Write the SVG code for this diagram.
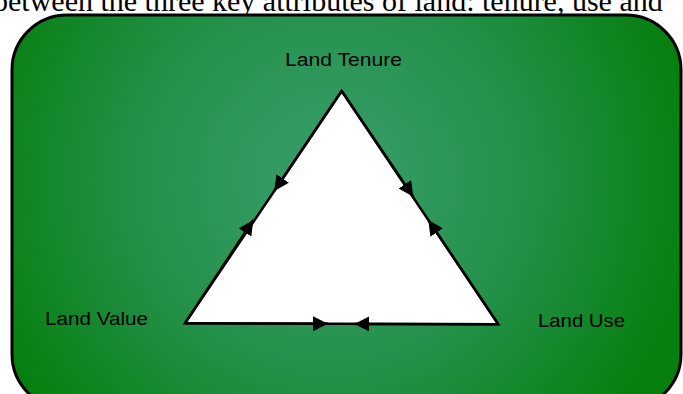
<svg xmlns="http://www.w3.org/2000/svg" width="683" height="394" viewBox="0 0 683 394">
<style>
.lbl{font-family:"Liberation Sans",Arial,sans-serif;font-size:18px;fill:#000}
.title{font-family:"Liberation Serif","Times New Roman",serif;font-size:30px;fill:#000}
.edge{fill:none;stroke:#000;stroke-width:2.5;marker-end:url(#ah)}
</style>
<defs>
<radialGradient id="bg" cx="330" cy="180" r="370" gradientUnits="userSpaceOnUse">
<stop offset="0" stop-color="#3a9e6e"/>
<stop offset="0.5" stop-color="#25914c"/>
<stop offset="1" stop-color="#067f0e"/>
</radialGradient>
<marker id="ah" viewBox="0 0 15 15" refX="15" refY="7.5" markerWidth="15" markerHeight="15" markerUnits="userSpaceOnUse" orient="auto">
<path d="M0,0 L15,7.5 L0,15 Z" fill="#000"/>
</marker>
</defs>
<text class="title" x="-7" y="11">between the three key attributes of land: tenure, use and</text>
<g id="frame">
<rect x="12" y="15" width="669" height="394" rx="55" ry="55" fill="url(#bg)" stroke="#000" stroke-width="3"/>
</g>
<g id="triangle">
<polygon points="341.7,91 185,323.3 498.3,324.3" fill="#fff" stroke="#000" stroke-width="2.5" stroke-linejoin="miter"/>
</g>
<g id="connectors">
<path class="edge" d="M341.7,91 L274.3,191"/>
<path class="edge" d="M185,323.3 L253.3,220"/>
<path class="edge" d="M341.7,91 L413.3,196.7"/>
<path class="edge" d="M498.3,324.3 L428.3,220"/>
<path class="edge" d="M185,323.3 L328,323.8"/>
<path class="edge" d="M498.3,324.3 L354.3,323.9"/>
</g>
<g id="node-tenure">
<text class="lbl" x="285" y="66" textLength="117" lengthAdjust="spacingAndGlyphs">Land Tenure</text>
</g>
<g id="node-value">
<text class="lbl" x="45" y="325" textLength="103" lengthAdjust="spacingAndGlyphs">Land Value</text>
</g>
<g id="node-use">
<text class="lbl" x="538" y="327" textLength="87" lengthAdjust="spacingAndGlyphs">Land Use</text>
</g>
</svg>
